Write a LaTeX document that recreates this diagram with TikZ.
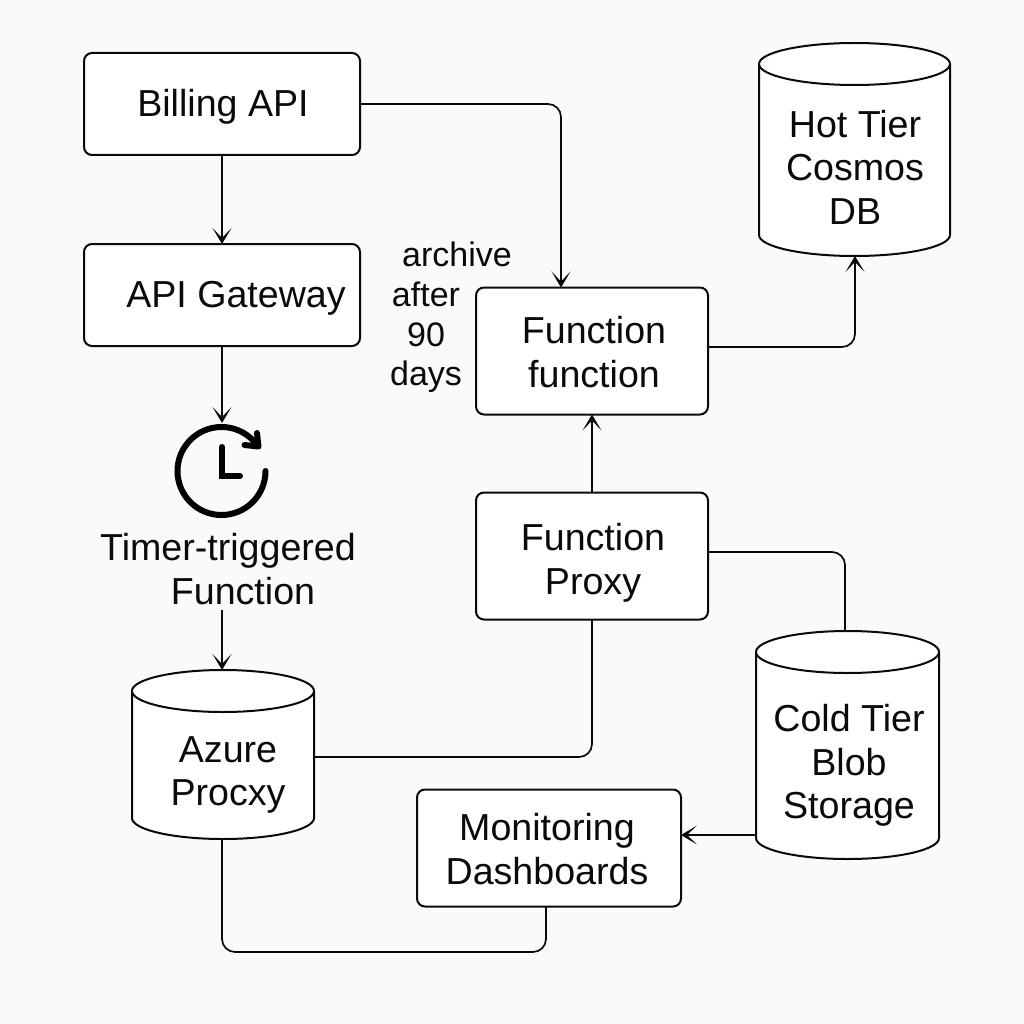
\documentclass[tikz,border=0pt]{standalone}
\usepackage{fontspec}
\setmainfont{Liberation Sans}
\usetikzlibrary{arrows.meta,calc}
\definecolor{bgc}{HTML}{FAFAFA}
\definecolor{ink}{HTML}{0A0A0A}
\tikzset{
  x=1pt,y=1pt,
  boxn/.style={draw=ink,line width=2pt,rounded corners=8pt,fill=white,inner sep=0pt,outer sep=0pt},
  txt/.style={inner sep=0pt,align=center,text=ink,font=\fontsize{37.6}{43.5}\selectfont},
  lab/.style={inner sep=0pt,align=center,text=ink,font=\fontsize{34}{39.7}\selectfont},
  conn/.style={draw=ink,line width=1.7pt,rounded corners=13pt},
  arr/.style={conn,-{Stealth[length=16pt,width=19pt,inset=10pt]}},
  cyls/.style={draw=ink,line width=2pt,fill=white},
  clockline/.style={draw=black,line width=6pt}
}
\begin{document}
\begin{tikzpicture}
\useasboundingbox (0,0) rectangle (1024,-1024);
\fill[bgc] (0,0) rectangle (1024,-1024);
% boxes
\node[boxn,minimum width=276pt,minimum height=102pt] (billing) at (222,-104) {};
\node[txt] (billingt) at (223,-107) {Billing API};
\node[boxn,minimum width=276pt,minimum height=102pt] (gateway) at (222,-295) {};
\node[txt] (gatewayt) at (236,-298) {API Gateway};
\node[boxn,minimum width=232pt,minimum height=127pt] (func) at (592,-351) {};
\node[txt] (funct) at (594,-352) {Function\\function};
\node[boxn,minimum width=232pt,minimum height=127pt] (proxy) at (592,-556) {};
\node[txt] (proxyt) at (593,-563) {Function\\Proxy};
\node[boxn,minimum width=264pt,minimum height=117pt] (mon) at (549,-848) {};
\node[txt] (mont) at (547,-849) {Monitoring\\Dashboards};
% cylinders
\path[cyls] (759,-64) -- (759,-235) arc[start angle=180,end angle=360,x radius=95.5,y radius=21] -- (950,-64) arc[start angle=0,end angle=180,x radius=95.5,y radius=21] -- cycle;
\draw[cyls] (759,-64) arc[start angle=180,end angle=360,x radius=95.5,y radius=21];
\node[txt] (hot) at (855,-167) {Hot Tier\\Cosmos\\DB};
\coordinate (hotb) at (855,-256);
\path[cyls] (756,-652) -- (756,-838) arc[start angle=180,end angle=360,x radius=91.5,y radius=21] -- (939,-652) arc[start angle=0,end angle=180,x radius=91.5,y radius=21] -- cycle;
\draw[cyls] (756,-652) arc[start angle=180,end angle=360,x radius=91.5,y radius=21];
\node[txt] (cold) at (849,-765.5) {Cold Tier\\Blob\\Storage};
\coordinate (coldt) at (845,-631);
\coordinate (coldl) at (756,-835);
\path[cyls] (132,-691) -- (132,-818) arc[start angle=180,end angle=360,x radius=91,y radius=21] -- (314,-691) arc[start angle=0,end angle=180,x radius=91,y radius=21] -- cycle;
\draw[cyls] (132,-691) arc[start angle=180,end angle=360,x radius=91,y radius=21];
\node[txt] (azure) at (228,-775) {Azure\\Procxy};
\coordinate (azt) at (222,-670);
\coordinate (azb) at (222,-839);
\coordinate (azr) at (314,-757);
% labels
\node[lab] (arch) at (426,-317.5) {\hspace*{62pt}archive\\after\\90\\days};
\node[txt] (timer) at (228,-569) {Timer-triggered\\\hspace*{30pt}Function};
% clock
\coordinate (clockt) at (222,-423);
\coordinate (timerb) at (222,-610);
\draw[clockline,line cap=round] (265.5,-471) arc[start angle=0,end angle=-316,radius=44];
\draw[clockline,line cap=round,line join=round] (244.5,-445) -- (258.5,-446.5) -- (257,-433);
\draw[clockline,line cap=round,line join=miter] (222,-447) -- (222,-476) -- (240,-476);
% connectors
\draw[arr] (billing.south) -- (gateway.north);
\draw[arr] (gateway.south) -- (clockt);
\draw[arr] (timerb) -- (azt);
\draw[arr] (billing.east) -- (561,-104) -- ($(func.north)+(-31,0)$);
\draw[arr] ($(func.east)+(0,4)$) -- (855,-347) -- (hotb);
\draw[arr] (proxy.north) -- (func.south);
\draw[conn] ($(proxy.east)+(0,4)$) -- (845,-552) -- (coldt);
\draw[conn] (proxy.south) -- (592,-757) -- (azr);
\draw[arr] (coldl) -- (mon.east |- coldl);
\draw[conn] (azb) -- (222,-952) -- (546,-952) -- (mon.south -| 546,0);
\end{tikzpicture}
\end{document}
